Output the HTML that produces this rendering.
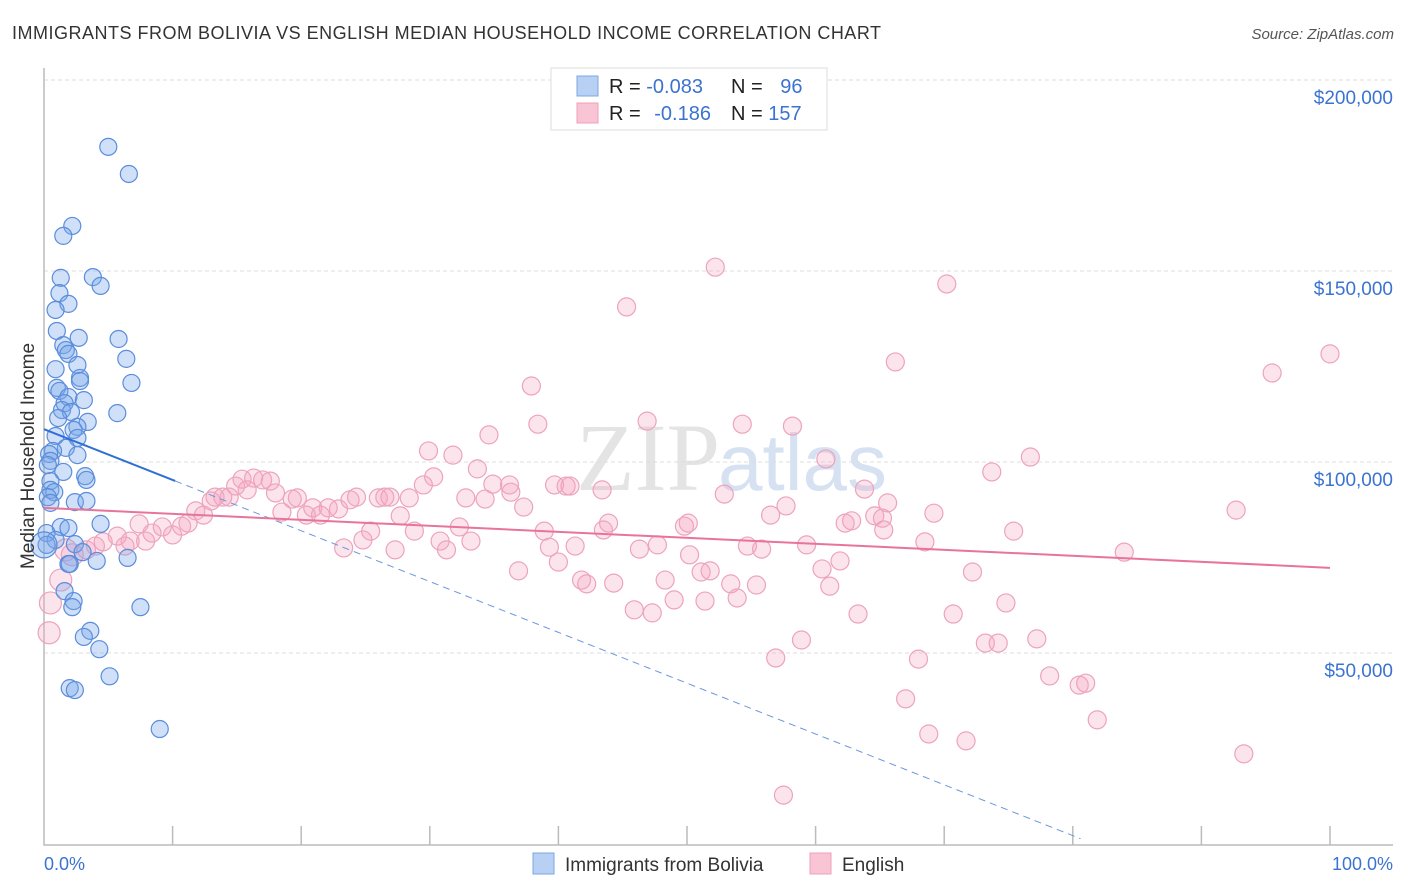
<!DOCTYPE html>
<html><head><meta charset="utf-8"><style>
body{margin:0;background:#fff;font-family:"Liberation Sans",sans-serif;}
svg{display:block}
</style></head><body>
<svg id="chart" width="1406" height="892" viewBox="0 0 1406 892" xmlns="http://www.w3.org/2000/svg">
<text x="12" y="39" font-size="18" fill="#333" textLength="869" lengthAdjust="spacing">IMMIGRANTS FROM BOLIVIA VS ENGLISH MEDIAN HOUSEHOLD INCOME CORRELATION CHART</text>
<text x="1394" y="39" font-size="15" fill="#555" font-style="italic" text-anchor="end">Source: ZipAtlas.com</text>
<text x="720" y="490" font-size="96" fill="#e4e4e4" text-anchor="end" font-family="Liberation Serif,serif">ZIP</text>
<text x="718" y="490" font-size="80" fill="#d6e2f2">atlas</text>
<g id="grid"></g>
<g id="axes"></g>
<g id="marks"></g>
<text transform="translate(34,456) rotate(-90)" font-size="19" fill="#333" text-anchor="middle">Median Household Income</text>
<g>
<rect x="551" y="68" width="276" height="62" fill="#fff" stroke="#ddd"/>
<rect x="577" y="76" width="21" height="20" fill="#b7d0f3" stroke="#7ea7e3"/>
<rect x="577" y="103" width="21" height="20" fill="#f9c5d5" stroke="#eea0ba"/>
<text x="609" y="93" font-size="20" fill="#222">R = <tspan fill="#3b73d1">-0.083</tspan></text>
<text x="731" y="93" font-size="20" fill="#222">N = <tspan fill="#3b73d1" dx="12">96</tspan></text>
<text x="609" y="120" font-size="20" fill="#222">R = <tspan fill="#3b73d1" dx="8">-0.186</tspan></text>
<text x="731" y="120" font-size="20" fill="#222">N = <tspan fill="#3b73d1">157</tspan></text>
</g>
<g>
<rect x="533" y="853" width="21" height="21" fill="#b7d0f3" stroke="#7ea7e3"/>
<text x="565" y="871" font-size="19" fill="#333">Immigrants from Bolivia</text>
<rect x="810" y="853" width="21" height="21" fill="#f9c5d5" stroke="#eea0ba"/>
<text x="842" y="871" font-size="19" fill="#333">English</text>
</g>
<text x="44" y="870" font-size="18" fill="#3b73d1">0.0%</text>
<text x="1393" y="870" font-size="18" fill="#3b73d1" text-anchor="end">100.0%</text>
</svg>
<script>
const yTicks=[50000,100000,150000,200000];
const yTickLabels=["$50,000","$100,000","$150,000","$200,000"];
const blueX=[5.0,6.6,2.2,1.5,1.3,3.8,4.4,1.2,1.9,0.9,1.0,2.7,5.8,1.5,1.7,1.9,6.4,0.9,2.6,2.8,2.8,6.8,1.0,1.2,1.9,1.6,3.1,5.7,1.4,2.1,1.1,3.4,2.6,2.3,0.9,2.6,1.7,0.7,0.4,2.6,0.5,0.3,1.5,3.2,3.3,0.5,0.5,0.8,0.3,2.4,3.3,0.5,4.4,1.3,1.9,0.2,0.9,2.4,0.2,3.0,1.9,2.0,6.5,4.1,1.6,2.3,7.5,2.2,3.6,3.1,4.3,5.1,2.0,2.4,9.0,0];
const blueY=[182.5,175.4,161.8,159.2,148.2,148.4,146.1,144.2,141.4,139.8,134.3,132.5,132.2,130.6,129.3,128.3,127.0,124.3,125.4,122.0,121.2,120.7,119.4,118.6,117.0,115.4,116.2,112.8,113.6,113.1,111.5,110.5,109.2,108.4,106.8,106.3,103.7,102.9,102.1,101.8,100.3,99.2,97.4,96.3,95.3,95.0,92.7,92.1,90.8,89.5,89.8,89.3,83.8,83.0,82.7,81.4,79.6,78.5,78.3,76.4,73.3,73.3,74.9,74.1,66.2,63.6,62.0,62.0,55.8,54.2,51.0,43.9,40.8,40.3,30.1,78.3];
const pinkX=[0.4,0.5,1.3,1.7,2.2,3.3,4.0,4.6,5.7,6.3,6.7,7.4,7.9,8.4,9.2,10.0,10.7,11.2,11.8,12.4,13.0,13.3,13.9,14.4,14.9,15.4,15.8,16.3,17.0,17.6,18.0,18.5,19.3,19.7,20.4,20.9,21.5,22.1,22.9,23.3,23.8,24.3,24.8,25.4,26.0,26.5,26.9,27.3,27.7,28.4,28.8,29.5,29.9,30.3,30.8,31.3,31.8,32.3,32.8,33.2,33.7,34.3,34.6,34.9,36.2,36.3,36.9,37.3,37.9,38.4,38.9,39.3,39.7,40.0,40.6,40.9,41.3,41.8,42.2,43.4,43.5,43.9,44.3,45.3,45.9,46.3,46.9,47.3,47.7,48.3,49.0,49.8,50.1,50.2,51.1,51.4,51.8,52.2,52.9,53.4,53.9,54.3,54.7,55.4,55.8,56.5,56.9,57.7,58.2,58.9,59.3,60.5,60.8,61.1,61.9,62.3,62.8,63.3,63.8,64.6,65.2,65.6,65.3,66.2,67.0,68.0,68.5,68.8,69.2,70.2,70.7,71.7,72.2,73.2,73.7,74.2,74.8,75.4,76.7,77.2,78.2,80.5,81.0,81.9,84.0,92.7,93.3,95.5,100,57.5];
const pinkY=[55.3,63.1,69.1,77.0,75.7,77.0,78.0,79.1,80.6,78.0,79.3,83.8,79.3,81.4,83.0,80.9,83.2,84.0,87.2,86.1,89.8,90.8,90.8,90.8,93.7,95.5,92.7,95.8,95.3,95.0,91.9,86.9,90.3,90.6,86.1,88.0,86.1,88.0,87.7,77.5,90.1,90.8,79.6,81.9,90.6,90.8,90.8,77.0,85.9,90.6,81.9,94.0,102.9,96.1,79.3,77.0,101.8,83.0,90.6,79.3,98.2,90.3,107.1,94.2,94.0,92.1,71.5,88.2,119.9,109.9,81.9,77.7,94.0,73.8,93.7,93.7,78.0,69.1,68.1,92.7,82.2,84.0,68.3,140.6,61.3,77.2,110.7,60.5,78.3,69.1,63.9,83.2,84.0,75.7,71.2,63.6,71.5,151.0,91.6,68.1,64.4,109.9,78.0,67.8,77.2,86.1,48.7,88.5,109.4,53.4,78.3,72.0,100.8,67.5,74.1,84.0,84.6,60.2,92.9,85.9,85.3,89.3,82.2,126.2,38.0,48.4,79.1,28.8,86.6,146.6,60.2,27.0,71.2,52.6,97.4,52.6,63.1,81.9,101.3,53.7,44.0,41.6,42.1,32.5,76.4,87.4,23.6,123.3,128.3,12.8];
const blueTrend=[108.6,-1.33];
const pinkTrend=[88.0,-0.157];
const NS="http://www.w3.org/2000/svg";
const xs=p=>44+p*12.86;
const ys=k=>844-k*3.82;
function mk(t,a,parent){const e=document.createElementNS(NS,t);for(const k in a)e.setAttribute(k,a[k]);parent.appendChild(e);return e;}
const grid=document.getElementById('grid'),axes=document.getElementById('axes'),marks=document.getElementById('marks');
yTicks.forEach((v,i)=>{
 const y=ys(v/1000);
 const l=mk('line',{x1:44,x2:1393,y1:y,y2:y,stroke:'#ddd','stroke-dasharray':'4,3'},grid);
 
 
 const t=mk('text',{x:1393,y:y+24,'font-size':19,fill:'#3b73d1','text-anchor':'end'},grid);
 t.textContent=yTickLabels[i];
 
 
});
const ax=mk('path',{d:'M44,68 V845 H1393',fill:'none',stroke:'#bbb','stroke-width':1.5},axes);


for(let i=1;i<=10;i++){const x=xs(i*10);
 const tk=mk('line',{x1:x,x2:x,y1:826,y2:845,stroke:'#bbb','stroke-width':1.5},axes);
 
 
}
pinkX.forEach((p,i)=>{
 const big=p<3;
 const c=mk('circle',{cx:xs(p),cy:ys(pinkY[i]),r:big?11:9,fill:'rgba(244,164,192,0.3)',stroke:'#eda3bc','stroke-width':1.2},marks);
 
 
});
blueX.forEach((p,i)=>{
 const c=mk('circle',{cx:xs(p),cy:ys(blueY[i]),r:p===0?13:8.5,fill:'rgba(120,165,235,0.35)',stroke:'#5a8ddb','stroke-width':1.2},marks);
 
 
});
const bx2=10.2,bxe=80.6;
const bl=mk('line',{x1:xs(0),y1:ys(blueTrend[0]),x2:xs(bx2),y2:ys(blueTrend[0]+blueTrend[1]*bx2),stroke:'#2f6fd6','stroke-width':2},marks);


const bd=mk('line',{x1:xs(bx2),y1:ys(blueTrend[0]+blueTrend[1]*bx2),x2:xs(bxe),y2:ys(blueTrend[0]+blueTrend[1]*bxe),stroke:'#6b97dd','stroke-width':1,'stroke-dasharray':'7,5'},marks);


const pl=mk('line',{x1:xs(0),y1:ys(pinkTrend[0]),x2:xs(100),y2:ys(pinkTrend[0]+pinkTrend[1]*100),stroke:'#e8749c','stroke-width':2},marks);


</script>
</body></html>
